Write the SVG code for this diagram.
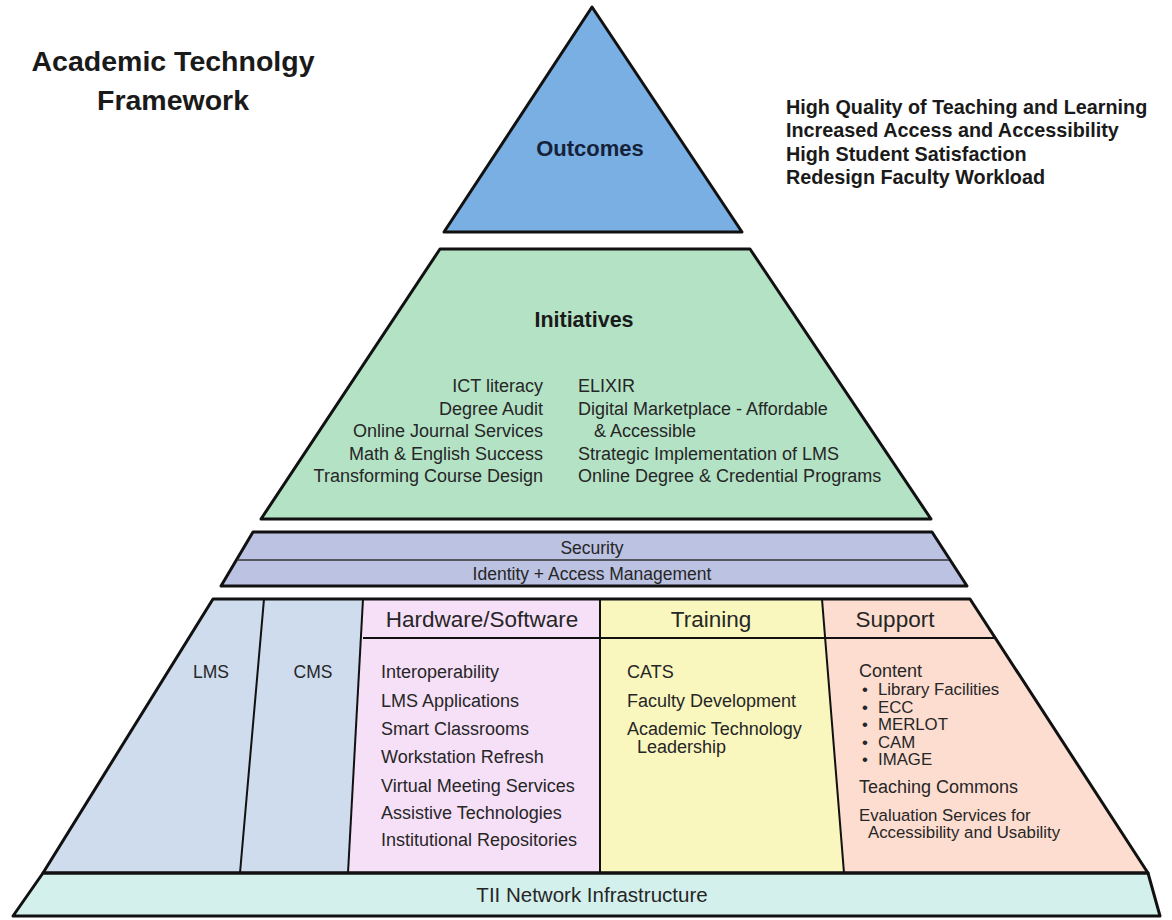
<svg xmlns="http://www.w3.org/2000/svg" width="1172" height="920" viewBox="0 0 1172 920">
<style>
text{font-family:"Liberation Sans",Arial,sans-serif;fill:#262626}
.b{font-weight:bold;fill:#1a1a1a}
.edge{stroke:#111;stroke-width:3;stroke-linejoin:round}
.in{stroke:#111;stroke-width:2;fill:none}
.thin{stroke:#333;stroke-width:1.3;fill:none}
.ini{font-size:18px}
.low{font-size:18px}
.bul{font-size:16.8px}
.hdr{font-size:22.5px}
</style>
<rect width="1172" height="920" fill="#fff"/>
<g id="title">
<text class="b" x="173" y="71" font-size="28.5" text-anchor="middle">Academic Technolgy</text>
<text class="b" x="173" y="110" font-size="28.5" text-anchor="middle">Framework</text>
</g>
<g id="outcomes">
<polygon class="edge" points="592,7 742,232 444,232" fill="#7aafe3"/>
<text class="b" x="590" y="156" font-size="22" text-anchor="middle" style="fill:#15223a">Outcomes</text>
</g>
<g id="outcomes-list">
<text class="b" x="786" y="114" font-size="19.8">High Quality of Teaching and Learning</text>
<text class="b" x="786" y="137" font-size="19.8">Increased Access and Accessibility</text>
<text class="b" x="786" y="161" font-size="19.8">High Student Satisfaction</text>
<text class="b" x="786" y="184" font-size="19.8">Redesign Faculty Workload</text>
</g>
<g id="initiatives">
<polygon class="edge" points="440,249 750,249 931,519 261,519" fill="#b4e2c5"/>
<text class="b" x="584" y="327" font-size="21.5" text-anchor="middle">Initiatives</text>
<g class="ini" text-anchor="end">
<text x="543" y="392">ICT literacy</text>
<text x="543" y="415">Degree Audit</text>
<text x="543" y="437">Online Journal Services</text>
<text x="543" y="460">Math &amp; English Success</text>
<text x="543" y="482">Transforming Course Design</text>
</g>
<text class="ini" x="578" y="392">ELIXIR</text>
<text class="ini" x="578" y="415">Digital Marketplace - Affordable</text>
<text class="ini" x="594" y="437">&amp; Accessible</text>
<text class="ini" x="578" y="460">Strategic Implementation of LMS</text>
<text class="ini" x="578" y="482">Online Degree &amp; Credential Programs</text>
</g>
<g id="security">
<polygon class="edge" points="253,532 932,532 967,586 221,586" fill="#bcc2e2"/>
<line class="thin" x1="237" y1="560" x2="949" y2="560"/>
<text x="592" y="554" font-size="17.5" text-anchor="middle">Security</text>
<text x="592" y="580" font-size="17.5" text-anchor="middle">Identity + Access Management</text>
</g>
<g id="lms">
<polygon points="213,599 264,599 240,873 43,873" fill="#cedcee"/>
<text x="211" y="678" font-size="17.5" text-anchor="middle">LMS</text>
</g>
<g id="cms">
<polygon points="264,599 363,599 348,873 240,873" fill="#cedcee"/>
<text x="313" y="678" font-size="17.5" text-anchor="middle">CMS</text>
</g>
<g id="hardware-software">
<polygon points="363,599 600,599 600,873 348,873" fill="#f6e0f8"/>
<text class="hdr" x="482" y="627" text-anchor="middle">Hardware/Software</text>
<g class="low">
<text x="381" y="678">Interoperability</text>
<text x="381" y="707">LMS Applications</text>
<text x="381" y="735">Smart Classrooms</text>
<text x="381" y="763">Workstation Refresh</text>
<text x="381" y="792">Virtual Meeting Services</text>
<text x="381" y="819">Assistive Technologies</text>
<text x="381" y="846">Institutional Repositories</text>
</g>
</g>
<g id="training">
<polygon points="600,599 822,599 844,873 600,873" fill="#f9f7be"/>
<text class="hdr" x="711" y="627" text-anchor="middle">Training</text>
<g class="low">
<text x="627" y="678">CATS</text>
<text x="627" y="707">Faculty Development</text>
<text x="627" y="735">Academic Technology</text>
<text x="637" y="753">Leadership</text>
</g>
</g>
<g id="support">
<polygon points="822,599 970,599 1148,873 844,873" fill="#fcddd0"/>
<text class="hdr" x="895" y="627" text-anchor="middle">Support</text>
<text class="low" x="859" y="677">Content</text>
<g class="bul">
<text x="862" y="695">•</text><text x="878" y="695">Library Facilities</text>
<text x="862" y="712.5">•</text><text x="878" y="712.5">ECC</text>
<text x="862" y="730">•</text><text x="878" y="730">MERLOT</text>
<text x="862" y="747.5">•</text><text x="878" y="747.5">CAM</text>
<text x="862" y="765">•</text><text x="878" y="765">IMAGE</text>
</g>
<text class="low" x="859" y="793">Teaching Commons</text>
<text class="bul" x="859" y="820.5">Evaluation Services for</text>
<text class="bul" x="868" y="838">Accessibility and Usability</text>
</g>
<g id="tii-network">
<polygon class="edge" points="43,873 1148,873 1160,916 13,916" fill="#d4f0ec"/>
<text x="592" y="902" font-size="20.5" text-anchor="middle">TII Network Infrastructure</text>
</g>
<g id="dividers">
<line class="in" x1="264" y1="599" x2="240" y2="873"/>
<line class="in" x1="363" y1="599" x2="348" y2="873"/>
<line class="in" x1="600" y1="599" x2="600" y2="873"/>
<line class="in" x1="822" y1="599" x2="844" y2="873"/>
<line class="in" x1="363" y1="638" x2="995" y2="638"/>
<polygon class="edge" points="213,599 970,599 1148,873 43,873" fill="none"/>
</g>
<g id="connectors"/>
</svg>
